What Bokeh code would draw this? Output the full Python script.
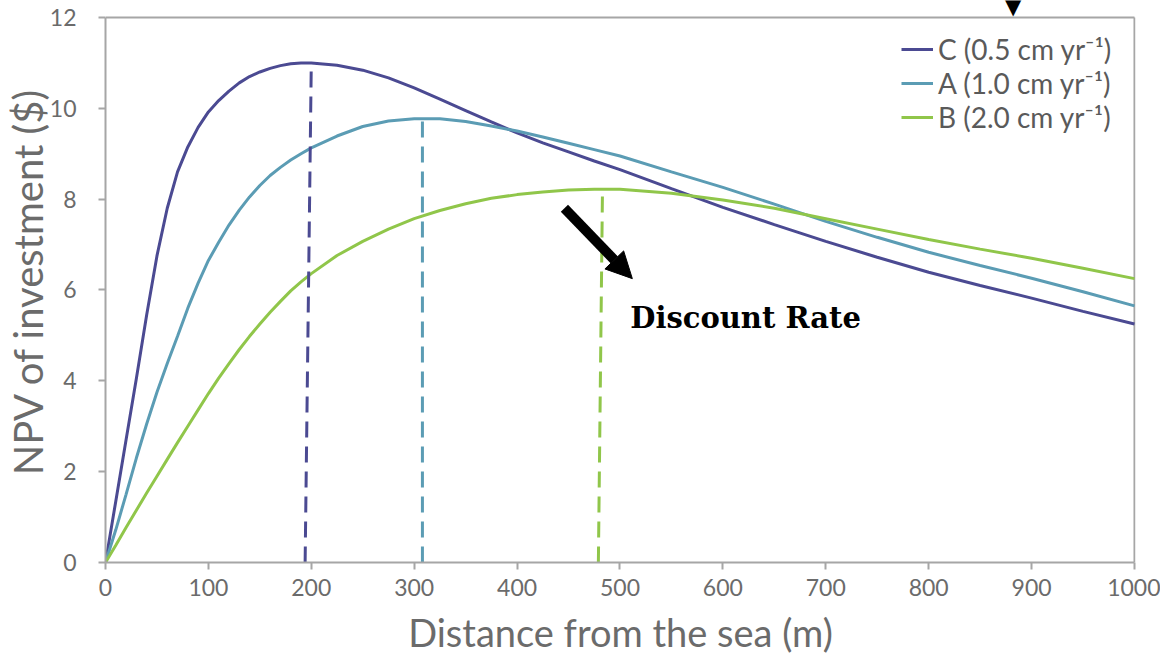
from bokeh.plotting import figure
from bokeh.models import Legend, LegendItem, Label, Arrow, NormalHead, FixedTicker, Range1d
from bokeh.embed import file_html
from bokeh.resources import INLINE

# Distance from the sea (m)
distance = [0, 10, 20, 30, 40, 50, 60, 70, 80, 90, 100, 110, 120, 130, 140, 150, 160, 170, 180, 190, 200,
            225, 250, 275, 300, 325, 350, 375, 400, 425, 450, 475, 500,
            550, 600, 650, 700, 750, 800, 850, 900, 950, 1000]

# NPV of investment ($)
npv_c = [0, 1.35, 2.7, 4.05, 5.45, 6.75, 7.8, 8.6, 9.15, 9.58, 9.92, 10.17, 10.38, 10.56, 10.7, 10.8, 10.88, 10.94, 10.98, 11.0, 11.0,
         10.95, 10.84, 10.67, 10.45, 10.2, 9.95, 9.7, 9.46, 9.24, 9.04, 8.84, 8.65,
         8.23, 7.82, 7.44, 7.07, 6.72, 6.39, 6.1, 5.82, 5.53, 5.25]
npv_a = [0, 0.72, 1.5, 2.3, 3.05, 3.75, 4.38, 4.98, 5.6, 6.15, 6.65, 7.05, 7.43, 7.76, 8.05, 8.3, 8.52, 8.7, 8.86, 9.0, 9.13,
         9.39, 9.6, 9.72, 9.77, 9.77, 9.71, 9.61, 9.5, 9.37, 9.23, 9.09, 8.95,
         8.6, 8.26, 7.89, 7.51, 7.16, 6.83, 6.54, 6.26, 5.96, 5.65]
npv_b = [0, 0.38, 0.77, 1.15, 1.53, 1.9, 2.27, 2.64, 3.0, 3.36, 3.72, 4.06, 4.38, 4.69, 4.98, 5.25, 5.51, 5.75, 5.98, 6.18, 6.36,
         6.76, 7.07, 7.34, 7.57, 7.75, 7.9, 8.02, 8.1, 8.16, 8.2, 8.22, 8.22,
         8.13, 7.98, 7.8, 7.57, 7.34, 7.11, 6.9, 6.7, 6.48, 6.25]

series_names = ["C (0.5 cm yr\u207b\u00b9)", "A (1.0 cm yr\u207b\u00b9)", "B (2.0 cm yr\u207b\u00b9)"]
series_colors = ["#4b4a92", "#5b9cb4", "#90c64a"]

# optimal distances (peak markers)
peak_x_bottom = [194, 308, 479]
peak_x_top = [200, 308, 483]
peak_y = [11.0, 9.78, 8.22]

x_ticks = [0, 100, 200, 300, 400, 500, 600, 700, 800, 900, 1000]
y_ticks = [0, 2, 4, 6, 8, 10, 12]
x_max, y_max = 1000, 12

p = figure(output_backend="svg", toolbar_location=None,
           frame_width=1030, frame_height=562,
           min_border_left=102, min_border_right=25, min_border_top=0, min_border_bottom=89,
           x_range=Range1d(0, 1001), y_range=Range1d(0, 12.374))
p.background_fill_color = "white"
p.border_fill_color = "white"
p.grid.visible = False
p.outline_line_color = None

gray = "#6b6b6b"
box_gray = "#a6a6a6"
for ax in (p.xaxis[0], p.yaxis[0]):
    ax.axis_line_color = box_gray
    ax.axis_line_width = 2
    ax.major_tick_line_color = box_gray
    ax.major_tick_line_width = 2
    ax.major_tick_out = 7
    ax.major_tick_in = 0
    ax.minor_tick_line_color = None
    ax.major_label_text_color = gray
    ax.major_label_text_font = "Lato"
    ax.major_label_text_font_size = "23px"
    ax.axis_label_text_color = gray
    ax.axis_label_text_font = "Lato"
    ax.axis_label_text_font_style = "normal"

p.xaxis.axis_label_text_font_size = "38px"
p.yaxis.axis_label_text_font_size = "40px"
p.xaxis.ticker = FixedTicker(ticks=x_ticks)
p.yaxis.ticker = FixedTicker(ticks=y_ticks)
p.xaxis.bounds = (0, x_max)
p.yaxis.bounds = (0, y_max)
p.xaxis.major_label_standoff = 9
p.yaxis.major_label_standoff = 22
p.xaxis.axis_label = "Distance from the sea (m)"
p.yaxis.axis_label = "NPV of investment ($)"
p.xaxis.axis_label_standoff = 10
p.yaxis.axis_label_standoff = -5

# top and right sides of the chart box
p.segment(x0=[0, x_max], y0=[y_max, 0], x1=[x_max, x_max], y1=[y_max, y_max],
          line_color=box_gray, line_width=2)

items = []
for name, col, ys in zip(series_names, series_colors, [npv_c, npv_a, npv_b]):
    r = p.line(distance, ys, line_color=col, line_width=3)
    items.append(LegendItem(label=name, renderers=[r]))

# dashed lines at the optimum
for xb, xt, yp, col in zip(peak_x_bottom, peak_x_top, peak_y, series_colors):
    p.segment(x0=[xb], y0=[0], x1=[xt], y1=[yp], line_color=col, line_width=3, line_dash="16 9")

legend = Legend(items=items, location=(788, 420))
legend.margin = 0
legend.padding = 8
legend.border_line_alpha = 0
legend.background_fill_alpha = 0
legend.label_text_font = "Lato"
legend.label_text_font_size = "28px"
legend.label_text_color = "#5a5a5a"
legend.label_width = 176
legend.glyph_width = 32
legend.label_standoff = 5
legend.spacing = 0
p.add_layout(legend)

# annotations
p.add_layout(Arrow(end=NormalHead(size=26, fill_color="black", line_color="black"),
                   x_start=446, y_start=7.8, x_end=512, y_end=6.25,
                   line_color="black", line_width=10))
p.add_layout(Label(x=510, y=5.02, text="Discount Rate", text_font="DejaVu Serif",
                   text_font_style="bold", text_font_size="29px", text_color="black"))
p.add_layout(Label(x=882, y=12.31, text="\u25bc", text_font="DejaVu Sans",
                   text_align="center", text_baseline="middle",
                   text_font_size="29px", text_color="black"))

open("out.html", "w").write(file_html(p, INLINE))
